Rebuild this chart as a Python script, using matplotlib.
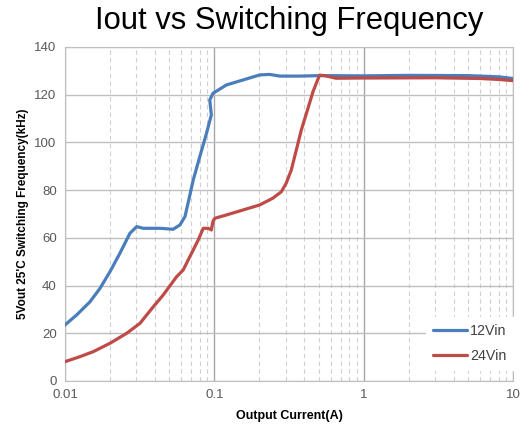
import numpy as np
import matplotlib.pyplot as plt
from matplotlib.ticker import FixedLocator, NullFormatter, FixedFormatter

plt.rcParams['font.family'] = ['Liberation Sans', 'DejaVu Sans']

# 12Vin curve
x12 = [0.01, 0.01198, 0.0147, 0.01714, 0.02, 0.0233, 0.0272, 0.0302, 0.0334, 0.0433,
       0.053, 0.0588, 0.0636, 0.067, 0.0722, 0.0799, 0.0886, 0.0955, 0.0932, 0.098,
       0.1206, 0.156, 0.2015, 0.2352, 0.2748, 0.3733, 0.5067, 1, 2, 5, 8, 10]
y12 = [23.5, 27.7, 33.2, 38.8, 45.8, 53.5, 61.9, 64.7, 64.0, 64.0,
       63.6, 65.4, 68.9, 75.1, 84.2, 94.0, 103.8, 111.5, 117.8, 120.6,
       124.1, 126.2, 128.3, 128.5, 127.8, 127.8, 128.0, 127.9, 128.1, 128.0, 127.5, 126.8]

# 24Vin curve
x24 = [0.01, 0.0126, 0.01547, 0.02, 0.0259, 0.0318, 0.039, 0.0454, 0.0518, 0.0559,
       0.0618, 0.0722, 0.078, 0.0843, 0.091, 0.0955, 0.098, 0.1008, 0.1206, 0.156,
       0.2015, 0.2461, 0.2808, 0.3029, 0.3275, 0.354, 0.3823, 0.414, 0.458, 0.5067,
       0.5475, 0.654, 1, 3, 6, 8, 10]
y24 = [8.1, 10.2, 12.3, 15.8, 20.0, 24.2, 31.1, 36.0, 40.9, 43.7,
       46.5, 54.9, 59.1, 64.0, 64.0, 63.3, 67.0, 68.2, 69.6, 71.7,
       73.8, 76.6, 79.3, 82.9, 88.4, 96.8, 105.2, 112.2, 121.3, 128.2,
       128.0, 126.9, 127.0, 127.1, 126.8, 126.4, 125.9]

xticks = [0.01, 0.1, 1, 10]
xtick_labels = ['0.01', '0.1', '1', '10']
yticks = [0, 20, 40, 60, 80, 100, 120, 140]

fig = plt.figure(figsize=(5.2, 4.3), dpi=100)
ax = fig.add_axes([0.125, 0.114, 0.8615, 0.7767])

ax.plot(x12, y12, color='#4a7ebb', lw=2.3, label='12Vin', zorder=3,
        solid_joinstyle='round', solid_capstyle='round')
ax.plot(x24, y24, color='#be4b48', lw=2.3, label='24Vin', zorder=3,
        solid_joinstyle='round', solid_capstyle='round')

ax.set_xscale('log')
ax.set_xlim(0.01, 10)
ax.set_ylim(0, 140)

ax.xaxis.set_major_locator(FixedLocator(xticks))
ax.xaxis.set_major_formatter(FixedFormatter(xtick_labels))
minor = [m * d for d in [0.01, 0.1, 1] for m in range(2, 10)]
ax.xaxis.set_minor_locator(FixedLocator(minor))
ax.xaxis.set_minor_formatter(NullFormatter())
ax.set_yticks(yticks)

ax.grid(which='major', axis='y', color='#bfbfbf', lw=1.0)
ax.grid(which='major', axis='x', color='#a6a6a6', lw=1.0)
ax.grid(which='minor', axis='x', color='#d0d0d0', lw=0.8, linestyle=(0, (4, 3)))
ax.tick_params(which='both', length=0, labelsize=9.5, labelcolor='#595959', pad=6)
for s in ax.spines.values():
    s.set_color('#bfbfbf')

ax.set_xlabel('Output Current(A)', fontsize=9, fontweight='bold', labelpad=6)
ax.set_ylabel("5Vout 25'C Switching Frequency(kHz)", fontsize=8.5, fontweight='bold', labelpad=4)
fig.text(0.557, 0.951, 'Iout vs Switching Frequency', fontsize=22.3, ha='center', va='center')

leg = ax.legend(loc='lower right', bbox_to_anchor=(1.018, 0.01), frameon=True, fontsize=10.3,
                handlelength=2.4, handletextpad=0.2, borderpad=0.5, labelspacing=0.8,
                fancybox=False, labelcolor='#404040')
leg.get_frame().set_edgecolor('white')
leg.get_frame().set_alpha(1.0)

fig.savefig('out.png', dpi=100)
